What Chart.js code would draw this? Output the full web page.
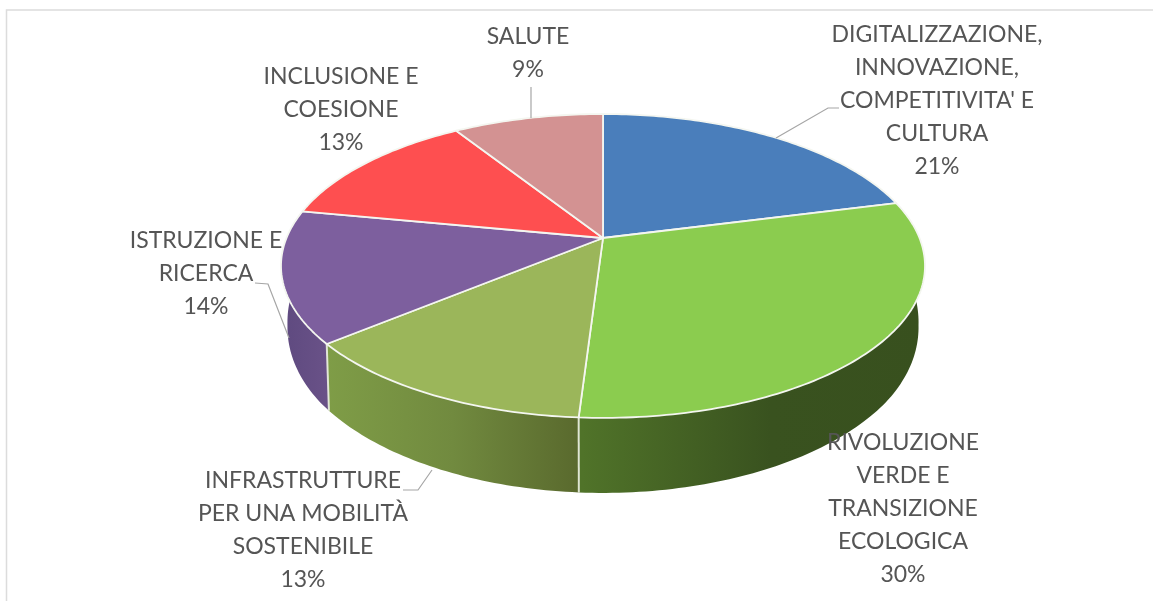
<!DOCTYPE html>
<html lang="it">
<head>
<meta charset="utf-8">
<title>Ripartizione delle risorse per missione</title>
<style>
  html, body { margin: 0; padding: 0; background: #fff; }
  canvas { display: block; }
</style>
<script src="https://cdn.jsdelivr.net/npm/chart.js@4"></script>
</head>
<body>
<canvas id="chart" width="1153" height="601"></canvas>
<script>
// Missions and their share of the plan, clockwise from twelve o'clock.
const categories = [
  "DIGITALIZZAZIONE, INNOVAZIONE, COMPETITIVITA' E CULTURA",
  "RIVOLUZIONE VERDE E TRANSIZIONE ECOLOGICA",
  "INFRASTRUTTURE PER UNA MOBILITÀ SOSTENIBILE",
  "ISTRUZIONE E RICERCA",
  "INCLUSIONE E COESIONE",
  "SALUTE"
];
const shares = [21, 30, 13, 14, 13, 9];

const labelLines = [
  ["DIGITALIZZAZIONE,", "INNOVAZIONE,", "COMPETITIVITA' E", "CULTURA"],
  ["RIVOLUZIONE", "VERDE E", "TRANSIZIONE", "ECOLOGICA"],
  ["INFRASTRUTTURE", "PER UNA MOBILITÀ", "SOSTENIBILE"],
  ["ISTRUZIONE E", "RICERCA"],
  ["INCLUSIONE E", "COESIONE"],
  ["SALUTE"]
];
const labelAnchors = [[937, 35], [903, 443], [303, 481], [206, 241], [341, 77], [528, 37]];
const labelSpacing = 32.8;
const leaders = [
  [[776, 138], [828, 108], [839, 108]],
  null,
  [[403, 490], [418, 490], [432, 470]],
  [[255, 283], [268, 284], [289, 338]],
  null,
  [[531, 87], [531, 118]]
];

const topColors = ["#4a7ebb", "#8bcc4f", "#9bb65a", "#7d5f9e", "#fe4f50", "#d39292"];
const wallStops = [
  [["0", "#2f5283"], ["1", "#2f5283"]],
  [["0", "#507329"], ["0.55", "#39521f"], ["1", "#38501e"]],
  [["0", "#7f9d47"], ["0.5", "#718a3f"], ["1", "#59692d"]],
  [["0", "#5f4a80"], ["1", "#6a5288"]],
  [["0", "#a83232"], ["1", "#a83232"]],
  [["0", "#8f6060"], ["1", "#8f6060"]]
];
const wallSpans = [[0, 0], [582, 925], [325, 581], [285, 330], [0, 0], [0, 0]];

// Tilted-disc projection: unit circle seen in perspective.
const disc = { cx: 603, cy: 238, a: 316.5, b: 146.8, k: 0.184 };

function rimPoint(theta) {
  const u = Math.sin(theta), v = -Math.cos(theta), w = 1 - disc.k * v;
  return { x: disc.cx + disc.a * u / w, y: disc.cy + disc.b * v / w, v };
}
function lowerPoint(theta) {
  const p = rimPoint(theta);
  const depth = 52 + 23 * Math.max(p.v, 0);
  const inset = 0.98 + 0.012 * Math.min(1, Math.max(0, (p.v - 0.2) / 0.4));
  return { x: disc.cx + (p.x - disc.cx) * inset, y: p.y + depth };
}
function arcSteps(start, end) {
  const n = Math.max(2, Math.ceil((end - start) / (Math.PI / 180)));
  const out = [];
  for (let i = 0; i <= n; i++) out.push(start + (end - start) * i / n);
  return out;
}

// Draws the library's pie arcs as a solid disc: walls first, then the top face.
const solidPie = {
  id: "solidPie",
  beforeDatasetsDraw(chart) {
    const ctx = chart.ctx;
    const arcs = chart.getDatasetMeta(0).data;
    const sweep = arcs.map(arc => [arc.startAngle + Math.PI / 2, arc.endAngle + Math.PI / 2]);

    ctx.save();
    ctx.lineJoin = "round";
    [3, 2, 1].forEach(i => {
      const steps = arcSteps(sweep[i][0], sweep[i][1]);
      const g = ctx.createLinearGradient(wallSpans[i][0], 0, wallSpans[i][1], 0);
      wallStops[i].forEach(s => g.addColorStop(+s[0], s[1]));
      ctx.beginPath();
      steps.forEach((t, j) => {
        const p = rimPoint(t);
        j ? ctx.lineTo(p.x, p.y) : ctx.moveTo(p.x, p.y);
      });
      steps.slice().reverse().forEach(t => {
        const p = lowerPoint(t);
        ctx.lineTo(p.x, p.y);
      });
      ctx.closePath();
      ctx.fillStyle = g;
      ctx.fill();
    });
    // Pale seams where wall sections meet.
    [sweep[1][1], sweep[2][1]].forEach(t => {
      const a = rimPoint(t), b = lowerPoint(t);
      ctx.beginPath();
      ctx.moveTo(a.x, a.y);
      ctx.lineTo(b.x, b.y);
      ctx.strokeStyle = "rgba(235,240,225,0.9)";
      ctx.lineWidth = 2;
      ctx.stroke();
    });

    sweep.forEach((s, i) => {
      ctx.beginPath();
      ctx.moveTo(disc.cx, disc.cy);
      arcSteps(s[0], s[1]).forEach(t => {
        const p = rimPoint(t);
        ctx.lineTo(p.x, p.y);
      });
      ctx.closePath();
      ctx.fillStyle = topColors[i];
      ctx.fill();
      ctx.strokeStyle = "#f4f6f0";
      ctx.lineWidth = 1.8;
      ctx.stroke();
    });
    ctx.restore();
    return false;
  },
  afterDraw(chart) {
    const ctx = chart.ctx;
    ctx.save();
    // Frame of the embedded chart.
    ctx.strokeStyle = "#dcdcdc";
    ctx.lineWidth = 1.5;
    ctx.beginPath();
    ctx.moveTo(6.5, 601);
    ctx.lineTo(6.5, 10);
    ctx.lineTo(1153, 10);
    ctx.stroke();

    ctx.strokeStyle = "#a6a6a6";
    ctx.lineWidth = 1.2;
    leaders.forEach(line => {
      if (!line) return;
      ctx.beginPath();
      line.forEach((p, j) => j ? ctx.lineTo(p[0], p[1]) : ctx.moveTo(p[0], p[1]));
      ctx.stroke();
    });

    ctx.fillStyle = "#555555";
    ctx.font = "23px Lato";
    ctx.textAlign = "center";
    ctx.textBaseline = "middle";
    labelLines.forEach((lines, i) => {
      const [x, y] = labelAnchors[i];
      lines.concat(shares[i] + "%").forEach((text, j) => {
        ctx.fillText(text, x, y + j * labelSpacing);
      });
    });
    ctx.restore();
  }
};

new Chart(document.getElementById("chart"), {
  type: "pie",
  data: {
    labels: categories,
    datasets: [{ data: shares, backgroundColor: topColors }]
  },
  options: {
    responsive: false,
    animation: false,
    plugins: { legend: { display: false }, tooltip: { enabled: false } }
  },
  plugins: [solidPie]
});
</script>
</body>
</html>
